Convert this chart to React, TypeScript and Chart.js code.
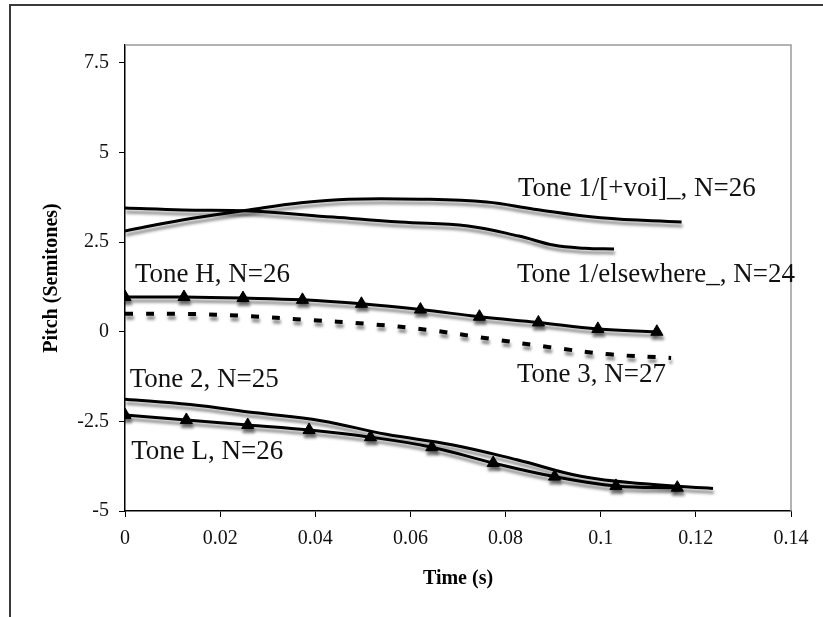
import React, { useEffect, useRef } from "react";
import { Chart, registerables } from "chart.js";

Chart.register(...registerables);

// ---- Data (time in s, pitch in semitones) ----
const tone1VoiTime = [0, 0.012, 0.026, 0.037, 0.047, 0.062, 0.076, 0.086, 0.1, 0.117];
const tone1VoiPitch = [2.81, 3.12, 3.4, 3.6, 3.7, 3.7, 3.62, 3.42, 3.18, 3.06];

const tone1ElseTime = [0, 0.0122, 0.0263, 0.0437, 0.0578, 0.0721, 0.0828, 0.09, 0.0967, 0.1028];
const tone1ElsePitch = [3.45, 3.4, 3.37, 3.2, 3.06, 2.95, 2.67, 2.42, 2.33, 2.31];

const toneHTime = [0, 0.0124, 0.0248, 0.0373, 0.0497, 0.0621, 0.0745, 0.0869, 0.0994, 0.1118];
const toneHPitch = [0.97, 0.97, 0.94, 0.89, 0.78, 0.62, 0.42, 0.26, 0.08, 0.0];

const tone3Time = [0, 0.0128, 0.0255, 0.0383, 0.051, 0.0638, 0.0765, 0.0893, 0.102, 0.1148];
const tone3Pitch = [0.5, 0.5, 0.44, 0.33, 0.22, 0.05, -0.19, -0.43, -0.63, -0.73];

const tone2Time = [0, 0.0137, 0.0275, 0.0412, 0.0549, 0.0687, 0.0824, 0.0961, 0.1099, 0.1236];
const tone2Pitch = [-1.88, -2.03, -2.26, -2.48, -2.86, -3.15, -3.57, -4.04, -4.25, -4.37];

const toneLTime = [0, 0.0129, 0.0258, 0.0387, 0.0516, 0.0645, 0.0774, 0.0903, 0.1032, 0.1161];
const toneLPitch = [-2.32, -2.46, -2.6, -2.74, -2.94, -3.22, -3.66, -4.04, -4.3, -4.35];

const xTicks = [0, 0.02, 0.04, 0.06, 0.08, 0.1, 0.12, 0.14];
const xTickLabels = ["0", "0.02", "0.04", "0.06", "0.08", "0.1", "0.12", "0.14"];
const yTicks = [-5, -2.5, 0, 2.5, 5, 7.5];
const yTickLabels = ["-5", "-2.5", "0", "2.5", "5", "7.5"];

const seriesLabels = [
  "Tone 1/[+voi]_, N=26",
  "Tone 1/elsewhere_, N=24",
  "Tone H, N=26",
  "Tone 3, N=27",
  "Tone 2, N=25",
  "Tone L, N=26",
];
// label anchors in data space (time, pitch): left edge, vertical middle
const labelTime = [0.0826, 0.0824, 0.0021, 0.0824, 0.001, 0.0013];
const labelPitch = [3.98, 1.58, 1.58, -1.21, -1.345, -3.35];

const SERIF = '"Liberation Serif", "Times New Roman", serif';

const toPts = (t: number[], v: number[]) => t.map((x, i) => ({ x, y: v[i] }));

const shadowPlugin = {
  id: "shadow",
  beforeDatasetDraw(chart: any) {
    const ctx = chart.ctx;
    ctx.save();
    ctx.shadowColor = "rgba(0,0,0,0.45)";
    ctx.shadowBlur = 3;
    ctx.shadowOffsetX = 1;
    ctx.shadowOffsetY = 4;
  },
  afterDatasetDraw(chart: any) {
    chart.ctx.restore();
  },
};

const framePlugin = {
  id: "frame",
  beforeDraw(chart: any) {
    const ctx = chart.ctx;
    ctx.save();
    ctx.fillStyle = "#fff";
    ctx.fillRect(0, 0, chart.width, chart.height);
    ctx.strokeStyle = "#3a3a3a";
    ctx.lineWidth = 2;
    ctx.beginPath();
    ctx.moveTo(10, chart.height);
    ctx.lineTo(10, 5);
    ctx.lineTo(chart.width, 5);
    ctx.stroke();
    ctx.restore();
  },
  beforeDatasetsDraw(chart: any) {
    const { ctx, chartArea } = chart;
    ctx.save();
    ctx.strokeStyle = "#9a9a9a";
    ctx.lineWidth = 1.5;
    ctx.beginPath();
    ctx.moveTo(chartArea.left, chartArea.top);
    ctx.lineTo(chartArea.right, chartArea.top);
    ctx.lineTo(chartArea.right, chartArea.bottom);
    ctx.stroke();
    ctx.restore();
  },
  afterDatasetsDraw(chart: any) {
    const { ctx } = chart;
    const xs = chart.scales.x;
    const ys = chart.scales.y;
    ctx.save();
    ctx.fillStyle = "#111";
    ctx.font = `27px ${SERIF}`;
    ctx.textAlign = "left";
    ctx.textBaseline = "middle";
    seriesLabels.forEach((txt, i) => {
      ctx.fillText(txt, xs.getPixelForValue(labelTime[i]), ys.getPixelForValue(labelPitch[i]));
    });
    ctx.restore();
  },
};

export default function App() {
  const ref = useRef<HTMLCanvasElement | null>(null);

  useEffect(() => {
    if (!ref.current) return;
    const line = (t: number[], v: number[], extra: any = {}) => ({
      data: toPts(t, v),
      borderColor: "#000",
      backgroundColor: "#000",
      borderWidth: 3,
      pointRadius: 0,
      tension: 0.4,
      fill: false,
      ...extra,
    });
    const tri = {
      pointStyle: "triangle",
      pointRadius: 7,
      pointBackgroundColor: "#000",
      pointBorderColor: "#000",
      pointBorderWidth: 1,
    };
    const chart = new Chart(ref.current, {
      type: "line",
      data: {
        datasets: [
          line(tone1VoiTime, tone1VoiPitch),
          line(tone1ElseTime, tone1ElsePitch),
          line(toneHTime, toneHPitch, tri),
          line(tone3Time, tone3Pitch, { borderDash: [8, 13], borderWidth: 4, borderCapStyle: "butt" }),
          line(tone2Time, tone2Pitch),
          line(toneLTime, toneLPitch, tri),
        ],
      },
      options: {
        responsive: false,
        animation: false,
        devicePixelRatio: 1,
        layout: { padding: { left: 0, top: 45, right: 32, bottom: 0 } },
        plugins: { legend: { display: false }, tooltip: { enabled: false } },
        scales: {
          x: {
            type: "linear",
            min: 0,
            max: 0.14,
            afterFit: (s: any) => {
              s.height = 106;
            },
            afterBuildTicks: (s: any) => {
              s.ticks = xTicks.map((v) => ({ value: v }));
            },
            ticks: {
              callback: (_v: any, i: number) => xTickLabels[i],
              font: { family: SERIF, size: 20 },
              color: "#111",
              padding: 10,
              maxRotation: 0,
              autoSkip: false,
            },
            grid: { display: true, drawOnChartArea: false, drawTicks: true, tickLength: 6, color: "#000", lineWidth: 1 },
            border: { display: true, color: "#000", width: 1.5 },
            title: {
              display: true,
              text: "Time (s)",
              font: { family: SERIF, size: 20, weight: "bold" },
              color: "#000",
              padding: { top: 0, bottom: 26 },
            },
          },
          y: {
            type: "linear",
            min: -5,
            max: 8,
            afterFit: (s: any) => {
              s.width = 125;
            },
            afterBuildTicks: (s: any) => {
              s.ticks = yTicks.map((v) => ({ value: v }));
            },
            ticks: {
              callback: (_v: any, i: number) => yTickLabels[i],
              font: { family: SERIF, size: 20 },
              color: "#111",
              padding: 10,
              autoSkip: false,
            },
            grid: { display: true, drawOnChartArea: false, drawTicks: true, tickLength: 6, color: "#000", lineWidth: 1 },
            border: { display: true, color: "#000", width: 1.5 },
            title: {
              display: true,
              text: "Pitch (Semitones)",
              font: { family: SERIF, size: 20, weight: "bold" },
              color: "#000",
              padding: { top: 40, bottom: 0 },
            },
          },
        },
      } as any,
      plugins: [shadowPlugin, framePlugin],
    });
    return () => chart.destroy();
  }, []);

  return (
    <div style={{ position: "absolute", left: 0, top: 0, width: 823, height: 617, background: "#fff" }}>
      <canvas ref={ref} width={823} height={617} style={{ display: "block" }} />
    </div>
  );
}
